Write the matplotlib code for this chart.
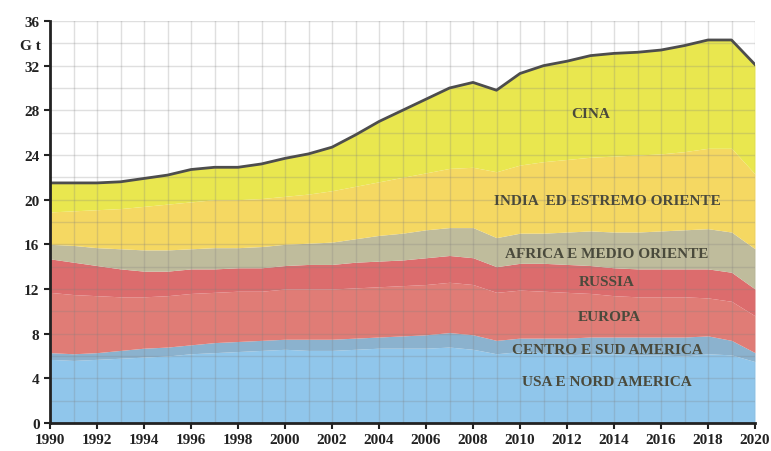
import matplotlib
matplotlib.use("Agg")
import matplotlib.pyplot as plt
import numpy as np

years = list(range(1990, 2021))

# cumulative boundaries (Gt)
usa_top = [5.7, 5.6, 5.7, 5.8, 5.9, 6.0, 6.2, 6.3, 6.4, 6.5, 6.6, 6.5, 6.5, 6.6, 6.7, 6.7,
           6.7, 6.8, 6.6, 6.2, 6.4, 6.3, 6.1, 6.2, 6.2, 6.1, 6.1, 6.0, 6.2, 6.1, 5.5]
centro_top = [6.3, 6.2, 6.3, 6.5, 6.7, 6.8, 7.0, 7.2, 7.3, 7.4, 7.5, 7.5, 7.5, 7.6, 7.7, 7.8,
              7.9, 8.1, 7.9, 7.4, 7.6, 7.6, 7.6, 7.7, 7.7, 7.7, 7.7, 7.7, 7.8, 7.4, 6.3]
russia = [3.0, 2.9, 2.7, 2.5, 2.3, 2.2, 2.2, 2.1, 2.1, 2.1, 2.1, 2.2, 2.2, 2.3, 2.3, 2.3,
          2.4, 2.4, 2.4, 2.3, 2.4, 2.5, 2.5, 2.5, 2.5, 2.5, 2.5, 2.5, 2.6, 2.6, 2.4]
russia_top = [14.7, 14.4, 14.1, 13.8, 13.6, 13.6, 13.8, 13.8, 13.9, 13.9, 14.1, 14.2, 14.2, 14.4,
              14.5, 14.6, 14.8, 15.0, 14.8, 14.0, 14.3, 14.3, 14.2, 14.1, 13.9, 13.8, 13.8,
              13.8, 13.8, 13.5, 12.0]
africa_top = [16.0, 15.9, 15.7, 15.6, 15.5, 15.5, 15.6, 15.7, 15.7, 15.8, 16.0, 16.1, 16.2, 16.5,
              16.8, 17.0, 17.3, 17.5, 17.5, 16.6, 17.0, 17.0, 17.1, 17.2, 17.1, 17.1, 17.2,
              17.3, 17.4, 17.1, 15.6]
india_top = [18.9, 19.0, 19.1, 19.2, 19.4, 19.6, 19.8, 20.0, 20.0, 20.1, 20.3, 20.5, 20.8, 21.2,
             21.6, 22.0, 22.4, 22.8, 22.9, 22.5, 23.1, 23.4, 23.6, 23.8, 23.9, 24.0, 24.1,
             24.3, 24.6, 24.6, 22.3]
total = [21.5, 21.5, 21.5, 21.6, 21.9, 22.2, 22.7, 22.9, 22.9, 23.2, 23.7, 24.1, 24.7, 25.8,
         27.0, 28.0, 29.0, 30.0, 30.5, 29.8, 31.3, 32.0, 32.4, 32.9, 33.1, 33.2, 33.4, 33.8,
         34.3, 34.3, 32.1]

labels = ["USA E NORD AMERICA", "CENTRO E SUD AMERICA", "EUROPA", "RUSSIA",
          "AFRICA E MEDIO ORIENTE", "INDIA  ED ESTREMO ORIENTE", "CINA"]
colors = ["#90C6EB", "#8BB2CE", "#E07C76", "#DC6C6D", "#BFBC9C", "#F5D862", "#E9E74F"]
label_pos = [(2013.7, 3.7), (2013.7, 6.6), (2013.8, 9.5), (2013.7, 12.7),
             (2013.7, 15.2), (2013.7, 19.9), (2013.0, 27.7)]

europa_top = np.array(russia_top) - np.array(russia)
bounds = [np.zeros(len(years)), np.array(usa_top), np.array(centro_top), europa_top,
          np.array(russia_top), np.array(africa_top), np.array(india_top), np.array(total)]

fig = plt.figure(figsize=(7.71, 4.52), dpi=100)
ax = fig.add_axes([50/771, 1 - 424/452, 705/771, 402/452])

for i in range(7):
    ax.fill_between(years, bounds[i], bounds[i + 1], color=colors[i], lw=0, zorder=1)
ax.plot(years, total, color="#4d4d4d", lw=2, zorder=4)

ax.set_xlim(1990, 2020)
ax.set_ylim(0, 36)
ax.set_xticks(range(1990, 2021, 2))
ax.set_xticks(range(1990, 2021, 1), minor=True)
ax.set_yticks(range(0, 37, 4))
ax.set_yticks(range(0, 37, 2), minor=True)
ax.grid(which="both", color="#808080", alpha=0.25, lw=1, zorder=3)
ax.set_axisbelow(False)
for sp in ["top", "right"]:
    ax.spines[sp].set_visible(False)
for sp in ["left", "bottom"]:
    ax.spines[sp].set_linewidth(2)
    ax.spines[sp].set_color("#222222")
    ax.spines[sp].set_zorder(5)
ax.tick_params(which="minor", length=0)
ax.tick_params(which="major", length=4, width=1.5, direction="out", color="#222222")
for lab in ax.get_xticklabels() + ax.get_yticklabels():
    lab.set_fontfamily("Liberation Serif")
    lab.set_fontweight("bold")
    lab.set_fontsize(11)
    lab.set_color("#222222")

fig.text(30/771, 1 - 46/452, "G t", ha="center", va="center", fontfamily="Liberation Serif",
         fontweight="bold", fontsize=11, color="#222222")

for lab, (lx, ly) in zip(labels, label_pos):
    ax.text(lx, ly, lab, ha="center", va="center", fontfamily="Liberation Serif",
            fontweight="bold", fontsize=11, color="#4a4a3c", zorder=6)

fig.savefig("out.png", dpi=100)
